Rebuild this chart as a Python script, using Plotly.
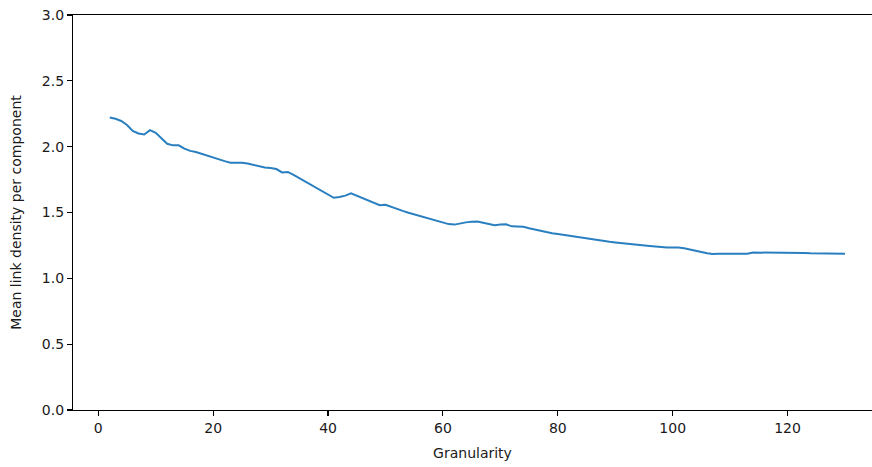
import plotly.graph_objects as go

granularity = list(range(2, 131))
density = [
    2.222, 2.212, 2.195, 2.165, 2.120, 2.100, 2.092, 2.125, 2.105, 2.060,   # 2-11
    2.022, 2.010, 2.010, 1.985, 1.968, 1.960, 1.945, 1.930, 1.918, 1.903,   # 12-21
    1.890, 1.878, 1.878, 1.878, 1.872, 1.862, 1.852, 1.842, 1.838, 1.830,   # 22-31
    1.804, 1.808, 1.785, 1.760, 1.733, 1.708, 1.683, 1.660, 1.635, 1.612,   # 32-41
    1.618, 1.628, 1.645, 1.627, 1.610, 1.592, 1.573, 1.556, 1.559, 1.542,   # 42-51
    1.527, 1.512, 1.498, 1.485, 1.472, 1.460, 1.447, 1.434, 1.422, 1.412,   # 52-61
    1.408, 1.418, 1.425, 1.430, 1.432, 1.422, 1.412, 1.403, 1.408, 1.410,   # 62-71
    1.395, 1.393, 1.392, 1.380, 1.370, 1.360, 1.350, 1.343, 1.337, 1.330,   # 72-81
    1.323, 1.316, 1.308, 1.301, 1.295, 1.289, 1.283, 1.278, 1.273, 1.268,   # 82-91
    1.263, 1.256, 1.252, 1.250, 1.246, 1.242, 1.237, 1.234, 1.234, 1.235,   # 92-101
    1.228, 1.219, 1.214, 1.200, 1.190, 1.185, 1.186, 1.186, 1.185, 1.185,   # 102-111
    1.184, 1.186, 1.196, 1.196, 1.195, 1.194, 1.193, 1.192, 1.192, 1.191,   # 112-121
    1.191, 1.192, 1.190, 1.189, 1.189, 1.188, 1.187, 1.187, 1.186,          # 122-130
]
x_ticks = [0, 20, 40, 60, 80, 100, 120]
y_ticks = [0.0, 0.5, 1.0, 1.5, 2.0, 2.5, 3.0]

fig = go.Figure(go.Scatter(
    x=granularity, y=density, mode="lines",
    line=dict(color="#2a7fc0", width=2),
))

font = dict(family="DejaVu Sans", size=14, color="#1a1a1a")
axis_common = dict(
    showgrid=False, zeroline=False, showline=True, linecolor="black", linewidth=1.1,
    ticks="outside", ticklen=5, tickwidth=1.1, tickcolor="black",
    tickfont=font, automargin=False,
)
fig.update_layout(
    width=872, height=467,
    margin=dict(l=72.5, r=0, t=14.5, b=56.5, autoexpand=False),
    paper_bgcolor="white", plot_bgcolor="white",
    showlegend=False,
    font=font,
    xaxis=dict(range=[-4.4, 134.7], tickvals=x_ticks, mirror=True,
               title=dict(text="Granularity", font=font, standoff=13), **axis_common),
    yaxis=dict(range=[0, 3], tickvals=y_ticks, tickformat=".1f",
               title=dict(text="Mean link density per component", font=font, standoff=16),
               **axis_common),
)
fig.write_html(
    "out.html",
    config={"displayModeBar": False, "staticPlot": True},
    post_script="document.body.style.margin='0';document.body.style.overflow='hidden';",
)
